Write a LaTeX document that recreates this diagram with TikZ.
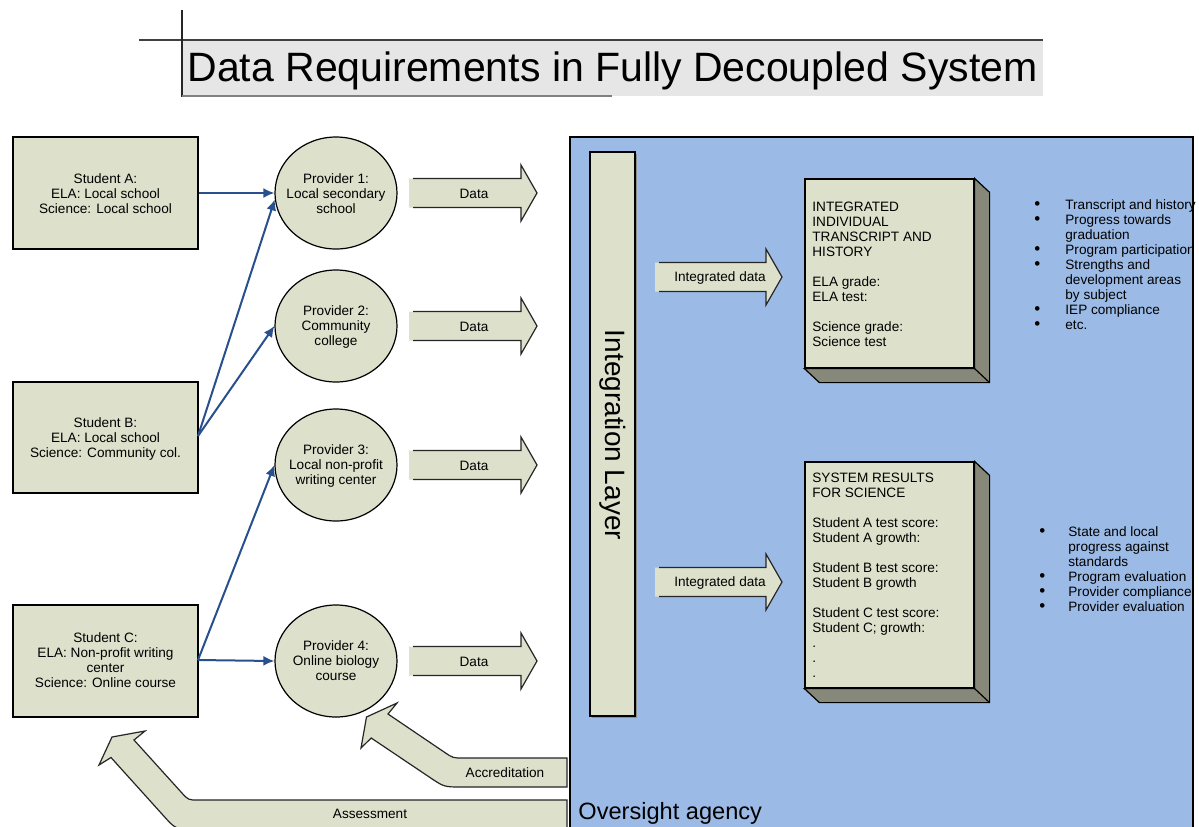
\documentclass[tikz,border=0pt]{standalone}
\usepackage{fontspec}
\setmainfont{Liberation Sans}
\usetikzlibrary{shapes.geometric,arrows.meta,calc}
\definecolor{beige}{RGB}{221,224,203}
\definecolor{agency}{RGB}{155,187,230}
\definecolor{sideface}{RGB}{134,136,122}
\definecolor{linkblue}{RGB}{40,80,140}
\definecolor{titlegray}{RGB}{230,230,230}
% multi-line text block with fixed row pitch
\newcommand{\txtblock}[2]{\begin{tabular}{@{}#1@{}}#2\end{tabular}}
% list bullet
\newcommand{\itemdot}{{\fontsize{8.5}{7.5}\selectfont\textbullet}}
% right-pointing block arrow: left end, head base, tip, centre line
\newcommand{\rarrow}[4]{%
  \fill[beige] (#1,#4-14.5) -- (#2,#4-14.5) -- (#2,#4-28) -- (#3,#4) -- (#2,#4+28) -- (#2,#4+14.5) -- (#1,#4+14.5) -- cycle;
  \draw[outline] (#1+4,#4-14.5) -- (#2,#4-14.5) -- (#2,#4-28) -- (#3,#4) -- (#2,#4+28) -- (#2,#4+14.5) -- (#1+4,#4+14.5);
}
\begin{document}
\begin{tikzpicture}[x=0.5pt,y=-0.5pt,
  body/.style={font=\fontsize{6.8}{7.5}\selectfont},
  outline/.style={draw=black!85, line width=0.6pt},
  box/.style={body, draw=black, fill=beige, line width=0.6pt, inner sep=0},
  prov/.style={ellipse, draw=black, fill=beige, line width=0.6pt, inner sep=0,
               minimum width=61pt, minimum height=56pt},
  lbl/.style={body, inner sep=0},
  link/.style={draw=linkblue, line width=1pt, -{Latex[length=5.5pt,width=5pt]}}]
\useasboundingbox (0,0) rectangle (1199,826);
\clip (0,0) rectangle (1199,826);
\fill[white] (0,0) rectangle (1199,826);

% ---- title
\fill[titlegray] (182,40) rectangle (1043,96);
\draw[black!75, line width=0.6pt] (139,40) -- (1043,40);
\draw[black!85, line width=0.6pt] (182,10) -- (182,97);
\draw[black!50, line width=1.2pt] (182,96) -- (612,96);
\node[anchor=base, inner sep=0, font=\fontsize{20.5}{24}\selectfont] (title) at (612.5,81)
  {Data Requirements in Fully Decoupled System};

% ---- oversight agency region
\filldraw[fill=agency, draw=black, line width=0.6pt] (570,137) rectangle (1193,840);
\node[anchor=base west, inner sep=0, font=\fontsize{11.8}{14}\selectfont] (agencylbl) at (578,819)
  {Oversight agency};

% ---- integration layer
\draw[black!45, line width=0.8pt] (636.5,154) -- (636.5,717.5) -- (592,717.5);
\node[box, minimum width=22.5pt, minimum height=282pt] (integ) at (612.5,434) {};
\node[rotate=-90, inner sep=0, font=\fontsize{14}{16}\selectfont] (integlbl) at (612.5,435)
  {Integration Layer};

% ---- students
\node[box, minimum width=92.5pt, minimum height=56pt] (sa) at (105.5,193) {};
\node[box, minimum width=92.5pt, minimum height=55.5pt] (sb) at (105.5,437.5) {};
\node[box, minimum width=92.5pt, minimum height=56pt] (sc) at (105.5,661) {};
\node[lbl] (sat) at (105.5,195) {\txtblock{c}{Student A:\\ELA: Local school\\Science: Local school}};
\node[lbl] (sbt) at (105.5,439.5) {\txtblock{c}{Student B:\\ELA: Local school\\Science: Community col.}};
\node[lbl] (sct) at (105.5,662) {\txtblock{c}{Student C:\\ELA: Non-profit writing\\center\\Science: Online course}};

% ---- providers
\node[prov] (p1) at (336,193) {};
\node[prov] (p2) at (336,326) {};
\node[prov] (p3) at (336,465) {};
\node[prov] (p4) at (336,661) {};
\node[lbl] (p1t) at (336,195) {\txtblock{c}{Provider 1:\\Local secondary\\school}};
\node[lbl] (p2t) at (336,327) {\txtblock{c}{Provider 2:\\Community\\college}};
\node[lbl] (p3t) at (336,466) {\txtblock{c}{Provider 3:\\Local non-profit\\writing center}};
\node[lbl] (p4t) at (336,662) {\txtblock{c}{Provider 4:\\Online biology\\course}};

% ---- enrolment links
\coordinate (bout) at (198,436);
\coordinate (cout) at (198,660);
\draw[link] (sa.east) -- (p1.west);
\draw[link] (bout) -- (p1.186);
\draw[link] (bout) -- (p2.west);
\draw[link] (cout) -- (p3.west);
\draw[link] (cout) -- (p4.west);

% ---- data flows to the integration layer
\rarrow{409}{521}{537}{193}
\rarrow{409}{521}{537}{326}
\rarrow{409}{521}{537}{465}
\rarrow{409}{521}{537}{661}
\node[lbl] (d1) at (474,194) {Data};
\node[lbl] (d2) at (474,327) {Data};
\node[lbl] (d3) at (474,466) {Data};
\node[lbl] (d4) at (474,662) {Data};

% ---- integrated data flows
\rarrow{655}{766}{782}{277}
\rarrow{655}{766}{782}{582}
\node[lbl] (i1) at (720,278) {Integrated data};
\node[lbl] (i2) at (720,583) {Integrated data};

% ---- transcript record
\node[box, minimum width=84.5pt, minimum height=94.5pt] (rec1) at (889.5,273.5) {};
\filldraw[fill=sideface, draw=black, line width=0.6pt]
  (rec1.north east) -- ++(15,14) -- ($(rec1.south east)+(15,14)$) -- ($(rec1.south west)+(15,14)$)
  -- (rec1.south west) -- (rec1.south east) -- cycle;
\draw[black, line width=0.6pt] (rec1.south east) -- ++(15,14);
\node[lbl, anchor=west] (rec1t) at (812,275.5)
  {\txtblock{l}{INTEGRATED\\INDIVIDUAL\\TRANSCRIPT AND\\HISTORY\\ \\ELA grade:\\ELA test:\\ \\Science grade:\\Science test}};

% ---- system results record
\node[box, minimum width=84.5pt, minimum height=113pt] (rec2) at (889.5,575) {};
\filldraw[fill=sideface, draw=black, line width=0.6pt]
  (rec2.north east) -- ++(15,14) -- ($(rec2.south east)+(15,14)$) -- ($(rec2.south west)+(15,14)$)
  -- (rec2.south west) -- (rec2.south east) -- cycle;
\draw[black, line width=0.6pt] (rec2.south east) -- ++(15,14);
\node[lbl, anchor=west] (rec2t) at (812,576.5)
  {\txtblock{l}{SYSTEM RESULTS\\FOR SCIENCE\\ \\Student A test score:\\Student A growth:\\ \\Student B test score:\\Student B growth\\ \\Student C test score:\\Student C; growth:\\.\\.\\.}};

% ---- uses of the records
\node[lbl, anchor=west] (uses1) at (1034,266)
  {\begin{tabular}{@{}p{15.5pt}@{}l@{}}
   \itemdot & Transcript and history\\
   \itemdot & Progress towards\\
            & graduation\\
   \itemdot & Program participation\\
   \itemdot & Strengths and\\
            & development areas\\
            & by subject\\
   \itemdot & IEP compliance\\
   \itemdot & etc.
   \end{tabular}};
\node[lbl, anchor=west] (uses2) at (1039,570.5)
  {\begin{tabular}{@{}p{14.5pt}@{}l@{}}
   \itemdot & State and local\\
            & progress against\\
            & standards\\
   \itemdot & Program evaluation\\
   \itemdot & Provider compliance\\
   \itemdot & Provider evaluation
   \end{tabular}};

% ---- accreditation feedback
\filldraw[fill=beige, draw=black!85, line width=0.6pt]
  (567,758) -- (463,758) .. controls (453,758) .. (444.7,752.4) -- (388,714) -- (397,703)
  -- (366.5,717) -- (361,748) -- (371.2,738) -- (429.1,776.9) .. controls (444,787) .. (462,787)
  -- (567,787) -- cycle;
\node[lbl] (accr) at (505,773) {Accreditation};

% ---- assessment feedback
\filldraw[fill=beige, draw=black!85, line width=0.6pt]
  (567,800) -- (198.3,800) .. controls (188.3,800) .. (181.6,792.6) -- (134,740) -- (145,731)
  -- (112,737) -- (99,765) -- (111,757.5) -- (163.4,815.6) .. controls (175.4,829) .. (193.4,829)
  -- (567,829) -- cycle;
\node[lbl] (assess) at (370,814) {Assessment};
\end{tikzpicture}
\end{document}
